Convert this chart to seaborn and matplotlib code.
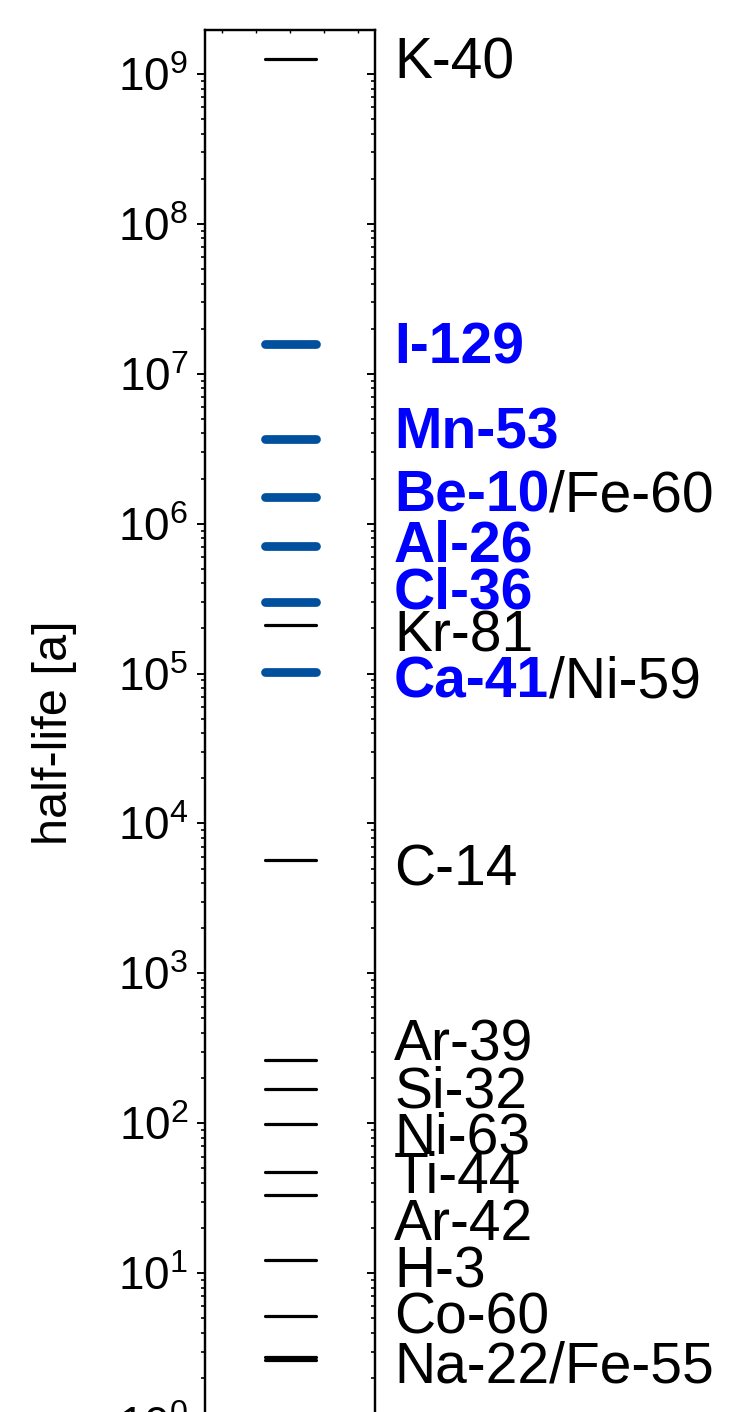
import numpy as np
import pandas as pd
import seaborn as sns
import matplotlib
matplotlib.use("Agg")
import matplotlib.pyplot as plt
import matplotlib.transforms as mtransforms

# half-lives in years
nuclides = ["K-40", "I-129", "Mn-53", "Be-10", "Al-26", "Cl-36", "Kr-81",
            "Ca-41", "C-14", "Ar-39", "Si-32", "Ni-63", "Ti-44", "Ar-42",
            "H-3", "Co-60", "Na-22", "Fe-55"]
half_lives = [1.25e9, 1.57e7, 3.7e6, 1.51e6, 7.1e5, 3.0e5, 2.1e5,
              1.03e5, 5.7e3, 265, 170, 99, 47, 33,
              12.3, 5.2, 2.62, 2.74]
groups = ["other", "ams", "ams", "ams", "ams", "ams", "other",
          "ams", "other", "other", "other", "other", "other", "other",
          "other", "other", "other", "other"]

# text labels and where they sit on the half-life scale
label_main = ["K-40", "I-129", "Mn-53", "Be-10", "Al-26", "Cl-36", "Kr-81",
              "Ca-41", "C-14", "Ar-39", "Si-32", "Ni-63", "Ti-44", "Ar-42",
              "H-3", "Co-60", "Na-22/Fe-55"]
label_extra = ["", "", "", "/Fe-60", "", "", "",
               "/Ni-59", "", "", "", "", "", "",
               "", "", ""]
label_bold = [False, True, True, True, True, True, False,
              True, False, False, False, False, False, False,
              False, False, False]
label_pos = [1.28e9, 1.61e7, 4.35e6, 1.65e6, 7.67e5, 3.73e5, 1.92e5,
             9.5e4, 5.3e3, 360, 175, 86, 46.5, 22.6,
             11.0, 5.4, 2.55]

line_blue = "#00509e"
text_blue = "#0000ff"

sns.set_style("ticks")
plt.rcParams["font.family"] = ["Liberation Sans", "DejaVu Sans"]
plt.rcParams["mathtext.fontset"] = "custom"
plt.rcParams["mathtext.rm"] = "Liberation Sans"
plt.rcParams["mathtext.it"] = "Liberation Sans:italic"
for key in ["text.color", "axes.labelcolor", "xtick.color", "ytick.color",
            "axes.edgecolor"]:
    plt.rcParams[key] = "black"

df = pd.DataFrame({"nuclide": nuclides, "half_life": half_lives, "group": groups})
# each nuclide becomes a short horizontal segment
span = pd.DataFrame({"x": [0.35, 0.65]})
segs = df.merge(span, how="cross")

fig = plt.figure(figsize=(7.46, 14.12), dpi=100)
ax = fig.add_axes([205 / 746, -0.0609, 170 / 746, 1.03965])
ax.set_yscale("log")
ylim = (10 ** -0.5, 1.966e9)

sns.lineplot(data=segs, x="x", y="half_life", units="nuclide", estimator=None,
             hue="group", size="group",
             palette={"ams": line_blue, "other": "black"},
             sizes={"ams": 6.3, "other": 2.3},
             sort=False, legend=False, ax=ax)

ax.set_xlim(0, 1)
ax.set_ylim(*ylim)
ax.set_xlabel("")
ax.set_ylabel("")
ax.set_xticks([0.1, 0.3, 0.5, 0.7, 0.9])
ax.tick_params(axis="x", bottom=False, top=True, labelbottom=False,
               direction="in", length=2, width=1)
ax.tick_params(axis="y", which="major", length=6, width=1.4, pad=6,
               labelsize=33, direction="out")
ax.tick_params(axis="y", which="minor", length=3, width=1.2, direction="out")
ax.yaxis.set_minor_locator(matplotlib.ticker.LogLocator(base=10, subs=np.arange(2, 10), numticks=30))
ax.yaxis.set_major_locator(matplotlib.ticker.LogLocator(base=10, numticks=30))
for s in ax.spines.values():
    s.set_visible(True)
    s.set_linewidth(1.6)
    s.set_color("black")

# inward ticks on the right side
twin = ax.twinx()
twin.set_yscale("log")
twin.set_ylim(*ylim)
twin.yaxis.set_minor_locator(matplotlib.ticker.LogLocator(base=10, subs=np.arange(2, 10), numticks=30))
twin.yaxis.set_major_locator(matplotlib.ticker.LogLocator(base=10, numticks=30))
twin.tick_params(axis="y", which="major", direction="in", length=6, width=1.4, labelright=False)
twin.tick_params(axis="y", which="minor", direction="in", length=3, width=1.2)
for s in twin.spines.values():
    s.set_linewidth(1.6)
    s.set_color("black")

fig.text(55 / 746, 1 - 733 / 1412, "half-life [a]", rotation=90,
         ha="center", va="center", fontsize=35, color="black")

trans = mtransforms.blended_transform_factory(ax.transAxes, ax.transData)
for main, extra, bold, pos in zip(label_main, label_extra, label_bold, label_pos):
    t = ax.annotate(main, xy=(1.112, pos), xycoords=trans,
                    xytext=(0, -14.6), textcoords="offset points",
                    ha="left", va="baseline", fontsize=41,
                    fontweight="bold" if bold else "normal",
                    color=text_blue if bold else "black",
                    annotation_clip=False)
    if extra:
        ax.annotate(extra, xy=(1, 0), xycoords=t, ha="left", va="bottom",
                    fontsize=41, color="black", annotation_clip=False)

fig.savefig("out.png", dpi=100)
